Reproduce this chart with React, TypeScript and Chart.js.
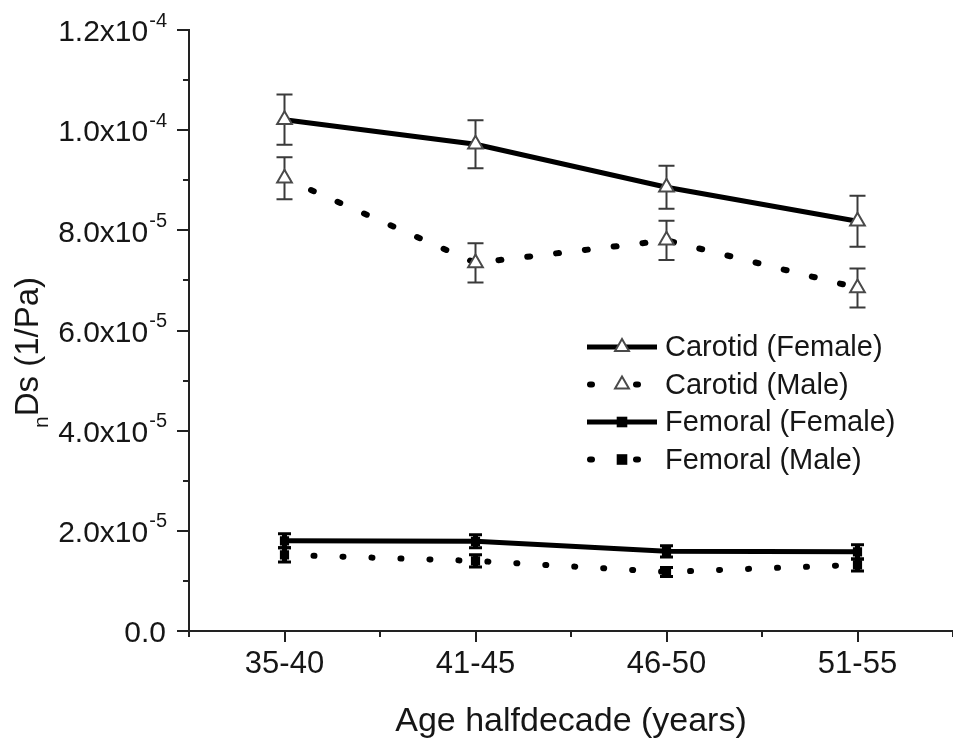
import React, { useEffect, useRef } from 'react';
import { Chart, registerables } from 'chart.js';

Chart.register(...registerables);

const categories = ['35-40', '41-45', '46-50', '51-55'];

const carotidFemale = [1.021e-4, 0.972e-4, 0.886e-4, 0.818e-4];
const carotidFemaleErr = [0.05e-4, 0.048e-4, 0.043e-4, 0.051e-4];
const carotidMale = [0.904e-4, 0.735e-4, 0.78e-4, 0.685e-4];
const carotidMaleErr = [0.042e-4, 0.039e-4, 0.039e-4, 0.039e-4];
const femoralFemale = [1.8e-5, 1.79e-5, 1.59e-5, 1.58e-5];
const femoralFemaleErr = [1.4e-6, 1.3e-6, 1.1e-6, 1.4e-6];
const femoralMale = [1.52e-5, 1.4e-5, 1.18e-5, 1.32e-5];
const femoralMaleErr = [1.4e-6, 1.2e-6, 0.9e-6, 1.2e-6];

const yMajorTicks = [0, 2e-5, 4e-5, 6e-5, 8e-5, 1e-4, 1.2e-4];
const yMinorTicks = [1e-5, 3e-5, 5e-5, 7e-5, 9e-5, 1.1e-4];
const yTickBase = ['0.0', '2.0x10', '4.0x10', '6.0x10', '8.0x10', '1.0x10', '1.2x10'];
const yTickExp = ['', '-5', '-5', '-5', '-5', '-4', '-4'];

const FONT = '"Liberation Sans", Arial, Helvetica, sans-serif';
const TEXT = '#161616';
const AXIS = '#222222';

const errorBarPlugin = {
  id: 'errorBars',
  beforeDatasetsDraw(chart: any) {
    const ctx = chart.ctx;
    const y = chart.scales.y;
    chart.data.datasets.forEach((ds: any, di: number) => {
      const meta = chart.getDatasetMeta(di);
      const errs: number[] = ds.errors || [];
      ctx.save();
      ctx.strokeStyle = ds.errColor;
      meta.data.forEach((pt: any, i: number) => {
        const v = ds.data[i];
        const e = errs[i];
        const x = pt.x;
        const yt = y.getPixelForValue(v + e);
        const yb = y.getPixelForValue(v - e);
        ctx.lineCap = 'butt';
        ctx.lineWidth = ds.errStem;
        ctx.beginPath();
        ctx.moveTo(x, yt);
        ctx.lineTo(x, yb);
        ctx.stroke();
        ctx.lineWidth = ds.errCapW;
        ctx.beginPath();
        ctx.moveTo(x - ds.errCap, yt);
        ctx.lineTo(x + ds.errCap, yt);
        ctx.moveTo(x - ds.errCap, yb);
        ctx.lineTo(x + ds.errCap, yb);
        ctx.stroke();
      });
      ctx.restore();
    });
  },
};

function drawMarker(ctx: any, style: string, x: number, y: number, r: number, fill: string, stroke: string, bw: number) {
  ctx.save();
  ctx.fillStyle = fill;
  ctx.strokeStyle = stroke;
  ctx.lineWidth = bw;
  ctx.beginPath();
  if (style === 'triangle') {
    let rad = 0;
    ctx.moveTo(x + Math.sin(rad) * r, y - Math.cos(rad) * r);
    rad += (2 * Math.PI) / 3;
    ctx.lineTo(x + Math.sin(rad) * r, y - Math.cos(rad) * r);
    rad += (2 * Math.PI) / 3;
    ctx.lineTo(x + Math.sin(rad) * r, y - Math.cos(rad) * r);
    ctx.closePath();
    ctx.fill();
    ctx.stroke();
  } else {
    const s = r * Math.SQRT1_2;
    ctx.rect(x - s, y - s, 2 * s, 2 * s);
    ctx.fill();
  }
  ctx.restore();
}

const decorPlugin = {
  id: 'decor',
  afterDraw(chart: any) {
    const ctx = chart.ctx;
    const ca = chart.chartArea;
    const ys = chart.scales.y;
    const xs = chart.scales.x;
    ctx.save();
    ctx.strokeStyle = AXIS;
    ctx.lineWidth = 2;
    ctx.lineCap = 'butt';
    // y ticks
    yMajorTicks.forEach((v) => {
      const py = Math.round(ys.getPixelForValue(v));
      ctx.beginPath();
      ctx.moveTo(ca.left - 12, py);
      ctx.lineTo(ca.left, py);
      ctx.stroke();
    });
    yMinorTicks.forEach((v) => {
      const py = Math.round(ys.getPixelForValue(v));
      ctx.beginPath();
      ctx.moveTo(ca.left - 6, py);
      ctx.lineTo(ca.left, py);
      ctx.stroke();
    });
    // x ticks
    const centers = categories.map((_, i) => xs.getPixelForValue(i));
    centers.forEach((px) => {
      ctx.beginPath();
      ctx.moveTo(Math.round(px), ca.bottom);
      ctx.lineTo(Math.round(px), ca.bottom + 11);
      ctx.stroke();
    });
    const half = (centers[1] - centers[0]) / 2;
    [centers[0] - half, ...centers.map((c) => c + half)].forEach((px) => {
      ctx.beginPath();
      ctx.moveTo(Math.round(px), ca.bottom);
      ctx.lineTo(Math.round(px), ca.bottom + 6);
      ctx.stroke();
    });
    // y tick labels with superscripts
    ctx.fillStyle = TEXT;
    const labelRight = ca.left - 22;
    yMajorTicks.forEach((v, i) => {
      const py = ys.getPixelForValue(v);
      ctx.font = `20px ${FONT}`;
      const ew = yTickExp[i] ? ctx.measureText(yTickExp[i]).width : 0;
      if (yTickExp[i]) {
        ctx.textAlign = 'left';
        ctx.textBaseline = 'middle';
        ctx.fillText(yTickExp[i], labelRight - ew, py - 9);
      }
      ctx.font = `30px ${FONT}`;
      ctx.textAlign = 'right';
      ctx.textBaseline = 'middle';
      ctx.fillText(yTickBase[i], labelRight - ew - 1, py + 3);
    });
    // y axis title with subscript n
    ctx.save();
    const tx = 38;
    const ty = (ca.top + ca.bottom) / 2 + 22;
    ctx.translate(tx, ty);
    ctx.rotate(-Math.PI / 2);
    ctx.textBaseline = 'alphabetic';
    ctx.textAlign = 'left';
    ctx.font = `21px ${FONT}`;
    const nw = ctx.measureText('n').width;
    ctx.font = `33px ${FONT}`;
    const mw = ctx.measureText('Ds (1/Pa)').width;
    const start = -(nw + mw) / 2;
    ctx.font = `21px ${FONT}`;
    ctx.fillText('n', start, 10);
    ctx.font = `33px ${FONT}`;
    ctx.fillText('Ds (1/Pa)', start + nw, 0);
    ctx.restore();
    // legend
    const lx = ca.right - 366;
    const ly0 = ca.top + 317;
    const rowH = 37.5;
    chart.data.datasets.forEach((ds: any, i: number) => {
      const yy = ly0 + i * rowH;
      ctx.save();
      ctx.strokeStyle = '#000';
      ctx.lineWidth = ds.borderWidth;
      if (ds.borderDash && ds.borderDash.length) {
        ctx.lineCap = 'round';
        ctx.setLineDash([2, 44]);
        ctx.beginPath();
        ctx.moveTo(lx + 3, yy);
        ctx.lineTo(lx + 70, yy);
        ctx.stroke();
      } else {
        ctx.lineCap = 'butt';
        ctx.beginPath();
        ctx.moveTo(lx, yy);
        ctx.lineTo(lx + 70, yy);
        ctx.stroke();
      }
      ctx.restore();
      const isRect = ds.pointStyle === 'rect';
      drawMarker(ctx, ds.pointStyle, lx + 35, yy, isRect ? ds.pointRadius + 1 : ds.pointRadius - 0.5, ds.pointBackgroundColor, ds.pointBorderColor, ds.pointBorderWidth);
      ctx.fillStyle = TEXT;
      ctx.font = `29px ${FONT}`;
      ctx.textAlign = 'left';
      ctx.textBaseline = 'middle';
      ctx.fillText(ds.label, lx + 78, yy + 1);
    });
    ctx.restore();
  },
};

export default function App() {
  const ref = useRef<HTMLCanvasElement | null>(null);
  useEffect(() => {
    if (!ref.current) return;
    const triangle = {
      pointStyle: 'triangle',
      pointRadius: 8.5,
      pointHoverRadius: 8.5,
      pointBackgroundColor: '#ffffff',
      pointBorderColor: '#4a4a4a',
      pointBorderWidth: 2,
      errColor: '#3a3a3a',
      errStem: 2,
      errCapW: 2,
      errCap: 8,
    };
    const square = {
      pointStyle: 'rect',
      pointRadius: 6.5,
      pointHoverRadius: 6.5,
      pointBackgroundColor: '#000000',
      pointBorderColor: '#000000',
      pointBorderWidth: 0,
      errColor: '#000000',
      errStem: 5,
      errCapW: 3,
      errCap: 6.5,
    };
    const chart = new Chart(ref.current, {
      type: 'line',
      data: {
        labels: categories,
        datasets: [
          {
            label: 'Carotid (Female)',
            data: carotidFemale,
            errors: carotidFemaleErr,
            borderColor: '#000',
            borderWidth: 5,
            borderDash: [],
            ...triangle,
          } as any,
          {
            label: 'Carotid (Male)',
            data: carotidMale,
            errors: carotidMaleErr,
            borderColor: '#000',
            borderWidth: 6,
            borderDash: [3, 26],
            borderCapStyle: 'round',
            ...triangle,
          } as any,
          {
            label: 'Femoral (Female)',
            data: femoralFemale,
            errors: femoralFemaleErr,
            borderColor: '#000',
            borderWidth: 5,
            borderDash: [],
            ...square,
          } as any,
          {
            label: 'Femoral (Male)',
            data: femoralMale,
            errors: femoralMaleErr,
            borderColor: '#000',
            borderWidth: 6,
            borderDash: [1, 28],
            borderCapStyle: 'round',
            ...square,
          } as any,
        ],
      },
      options: {
        animation: false,
        responsive: false,
        maintainAspectRatio: false,
        layout: { autoPadding: false, padding: { top: 30, left: 0, right: 0, bottom: 0 } },
        plugins: { legend: { display: false }, tooltip: { enabled: false } },
        elements: { line: { tension: 0 } },
        scales: {
          x: {
            type: 'category',
            offset: true,
            grid: { display: false, drawTicks: false },
            border: { display: true, color: AXIS, width: 2 },
            ticks: {
              color: TEXT,
              padding: 15,
              font: { family: FONT, size: 31 },
              maxRotation: 0,
            },
            title: {
              display: true,
              text: 'Age halfdecade (years)',
              color: TEXT,
              font: { family: FONT, size: 34 },
              padding: { top: 0, bottom: 0 },
            },
            afterFit: (s: any) => {
              s.height = 111;
              s.paddingLeft = 0;
              s.paddingRight = 0;
            },
          },
          y: {
            min: 0,
            max: 1.2e-4,
            grid: { display: false, drawTicks: false },
            border: { display: true, color: AXIS, width: 2 },
            ticks: { display: false, stepSize: 2e-5 },
            afterFit: (s: any) => {
              s.width = 189;
              s.paddingTop = 0;
              s.paddingBottom = 0;
            },
          },
        },
      } as any,
      plugins: [errorBarPlugin, decorPlugin],
    });
    return () => chart.destroy();
  }, []);
  return (
    <div style={{ position: 'fixed', left: 0, top: 0, width: 953, height: 742, background: '#fff' }}>
      <canvas ref={ref} width={953} height={742} style={{ display: 'block' }} />
    </div>
  );
}
